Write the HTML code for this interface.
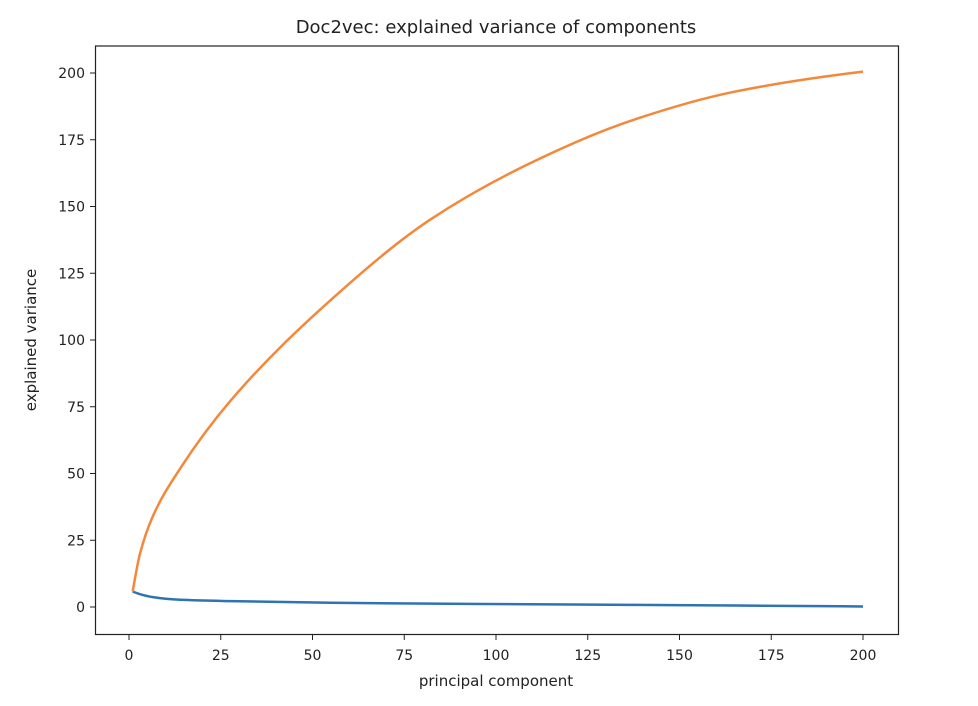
<!DOCTYPE html>
<html><head><meta charset="utf-8"><style>
body{margin:0;background:#fff;width:978px;height:702px;overflow:hidden;font-family:"DejaVu Sans","Liberation Sans",sans-serif}
</style></head><body>
<svg id="chart" width="978" height="702" xmlns="http://www.w3.org/2000/svg">
<text x="496" y="33" text-anchor="middle" font-size="18" fill="#222">Doc2vec: explained variance of components</text>
<rect x="95.5" y="46" width="803" height="588.5" fill="none" stroke="#222" stroke-width="1.2"/>
<g id="xticks"></g>
<g id="yticks"></g>
<g id="series"></g>
<text x="496" y="686" text-anchor="middle" font-size="15" fill="#222">principal component</text>
<text transform="translate(36,340) rotate(-90)" text-anchor="middle" font-size="15" fill="#222">explained variance</text>
</svg>
<script>
const components = [1, 3, 6.5, 14, 27.5, 55, 82, 109, 136.5, 165, 200];
const cumulativeVariance = [5.8, 20, 34, 52, 77, 115, 145, 166, 182, 193, 200.5];
const componentVariance = [5.8, 4.8, 3.7, 2.7, 2.2, 1.6, 1.25, 1.05, 0.8, 0.55, 0.2];
const xTicks = [0, 25, 50, 75, 100, 125, 150, 175, 200];
const yTicks = [0, 25, 50, 75, 100, 125, 150, 175, 200];

const NS = "http://www.w3.org/2000/svg";
const xs = v => 129 + v * 3.67;
const ys = v => 607 - v * 2.67;
function mk(tag, attrs, parent){const e=document.createElementNS(NS,tag);for(const k in attrs)e.setAttribute(k,attrs[k]);parent.appendChild(e);return e;}
const xg=document.getElementById('xticks'), yg=document.getElementById('yticks'), sg=document.getElementById('series');
xTicks.forEach(t=>{
  const l=mk('line',{x1:xs(t),x2:xs(t),y1:634.5,y2:640,stroke:'#222'},xg);
  
  
  const tx=mk('text',{x:xs(t),y:660,'text-anchor':'middle','font-size':'14',fill:'#222'},xg);
  tx.textContent=t;
  
  
});
yTicks.forEach(t=>{
  const l=mk('line',{x1:90,x2:95.5,y1:ys(t),y2:ys(t),stroke:'#222'},yg);
  
  
  const tx=mk('text',{x:85,y:ys(t)+5,'text-anchor':'end','font-size':'14',fill:'#222'},yg);
  tx.textContent=t;
  
  
});
// monotone cubic (Fritsch-Carlson style, weighted harmonic mean tangents)
function curve(vals){
  const p=components.map((c,i)=>[xs(c),ys(vals[i])]);
  const n=p.length, h=[], s=[], m=[];
  for(let i=0;i<n-1;i++){h[i]=p[i+1][0]-p[i][0];s[i]=(p[i+1][1]-p[i][1])/h[i];}
  for(let i=0;i<n;i++){
    if(i===0){m[i]=s[0]+(s[0]-s[1])*h[0]/(h[0]+h[1])*0.5;}
    else if(i===n-1){m[i]=s[n-2]+(s[n-2]-s[n-3])*h[n-2]/(h[n-2]+h[n-3])*0.5;}
    else if(s[i-1]*s[i]<=0){m[i]=0;}
    else{const w1=2*h[i]+h[i-1],w2=h[i]+2*h[i-1];m[i]=(w1+w2)/(w1/s[i-1]+w2/s[i]);}
  }
  let d='M'+p[0][0]+','+p[0][1];
  for(let i=0;i<n-1;i++){
    const c1=[p[i][0]+h[i]/3,p[i][1]+m[i]*h[i]/3];
    const c2=[p[i+1][0]-h[i]/3,p[i+1][1]-m[i+1]*h[i]/3];
    d+=` C${c1[0]},${c1[1]} ${c2[0]},${c2[1]} ${p[i+1][0]},${p[i+1][1]}`;
  }
  return d;
}
const blue=mk('path',{d:curve(componentVariance),fill:'none',stroke:'#2f73b1',"stroke-width":2.5},sg);


const orange=mk('path',{d:curve(cumulativeVariance),fill:'none',stroke:'#f4883a',"stroke-width":2.5},sg);


</script>
</body></html>
